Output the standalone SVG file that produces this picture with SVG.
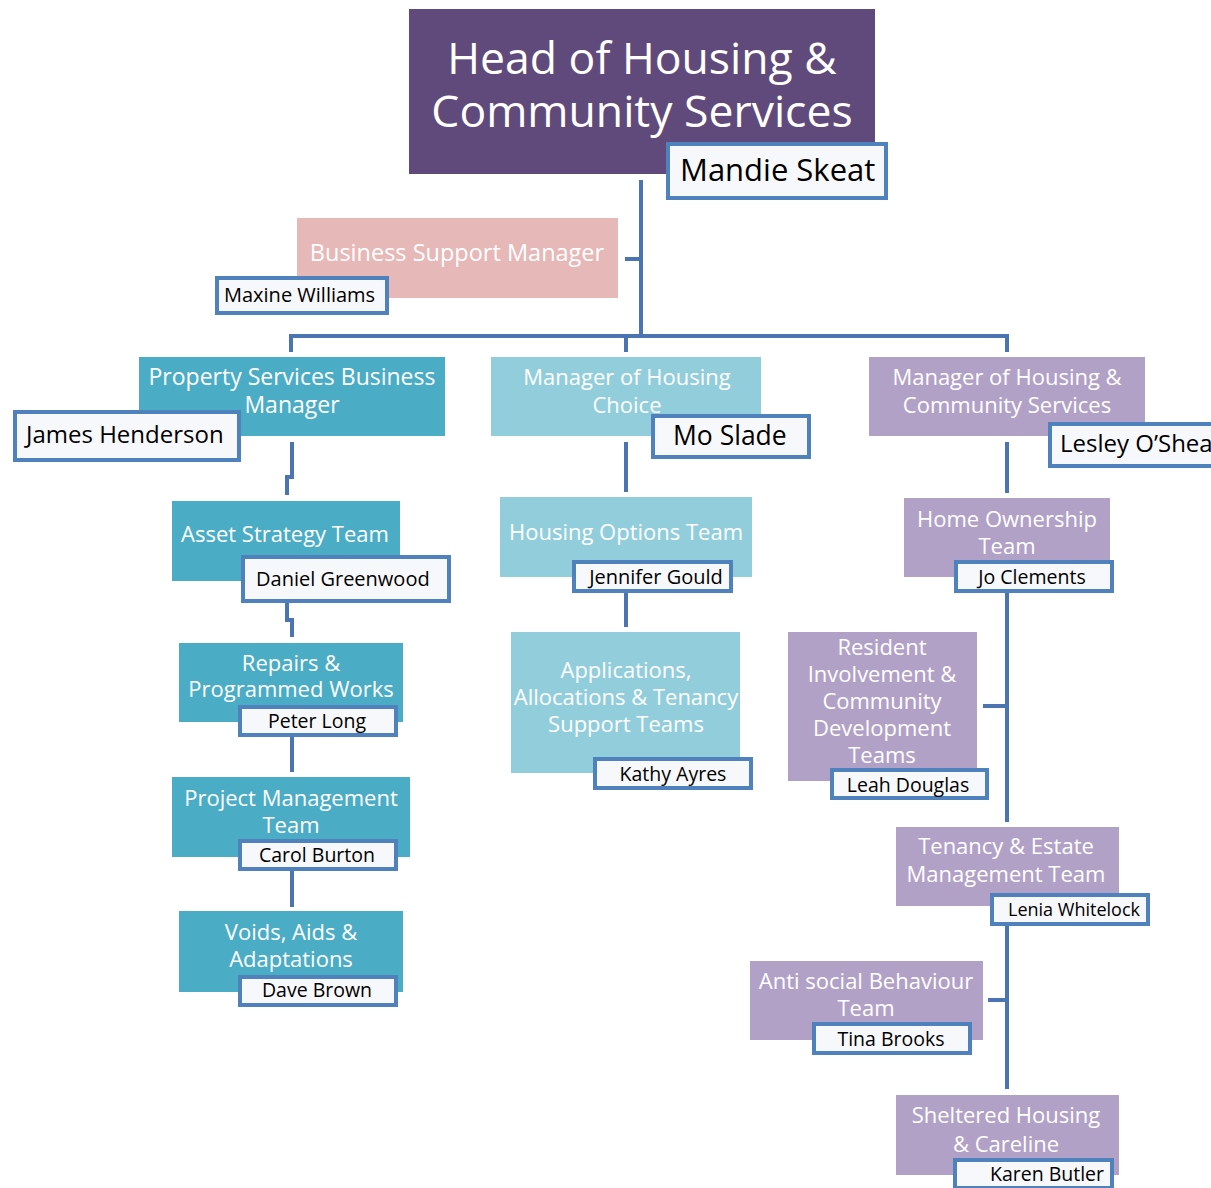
<svg xmlns="http://www.w3.org/2000/svg" width="1211" height="1188" viewBox="0 0 1211 1188">
<style>
.t{font-family:"Open Sans","Liberation Sans",sans-serif;fill:#fff;text-anchor:middle}
.n{font-family:"Open Sans","Liberation Sans",sans-serif;fill:#000}
.nc{font-family:"Open Sans","Liberation Sans",sans-serif;fill:#000;text-anchor:middle}
.lb{fill:#f7f8fb;stroke:#4f81bd;stroke-width:4}
.teal{fill:#4bacc6}
.lblue{fill:#92cddc}
.lav{fill:#b2a1c7}
.c{fill:none;stroke:#4a74b2;stroke-width:4}
</style>
<rect width="1211" height="1188" fill="#fff"/>
<g id="connectors">
<path class="c" d="M641 180V336"/>
<path class="c" d="M625 259H641"/>
<path class="c" d="M291 352V336H1007V352M626 336V352"/>
<path class="c" d="M292 442V477H287V495"/>
<path class="c" d="M287 602V620H292V637"/>
<path class="c" d="M292 737V772"/>
<path class="c" d="M292 871V907"/>
<path class="c" d="M626 442V492"/>
<path class="c" d="M626 591V627"/>
<path class="c" d="M1007 442V493"/>
<path class="c" d="M1007 591V822M983 706H1007"/>
<path class="c" d="M1007 924V1089M988 1000H1007"/>
</g>
<g id="head">
<rect x="409" y="9" width="466" height="165" fill="#604a7b"/>
<text class="t" x="642" y="74" font-size="44.5">Head of Housing &amp;</text>
<text class="t" x="642" y="127" font-size="44.5">Community Services</text>
<rect class="lb" x="668" y="144" width="218" height="54"/>
<text class="n" x="680" y="181" font-size="31">Mandie Skeat</text>
</g>
<g id="business-support">
<rect x="297" y="218" width="321" height="80" fill="#e6b8b7"/>
<text class="t" x="457" y="261" font-size="23.5">Business Support Manager</text>
<rect class="lb" x="217" y="278" width="170" height="35"/>
<text class="n" x="224" y="302" font-size="20">Maxine Williams</text>
</g>
<g id="property-services">
<rect class="teal" x="139" y="357" width="306" height="79"/>
<text class="t" x="292" y="385" font-size="23">Property Services Business</text>
<text class="t" x="292" y="413" font-size="23">Manager</text>
<rect class="lb" x="15" y="412" width="224" height="48"/>
<text class="n" x="26" y="443" font-size="24">James Henderson</text>
</g>
<g id="housing-choice">
<rect class="lblue" x="491" y="357" width="270" height="79"/>
<text class="t" x="627" y="385" font-size="22">Manager of Housing</text>
<text class="t" x="627" y="413" font-size="22">Choice</text>
<rect class="lb" x="653" y="416" width="156" height="41"/>
<text class="n" x="673" y="445" font-size="26.5">Mo Slade</text>
</g>
<g id="housing-community">
<rect class="lav" x="869" y="357" width="276" height="79"/>
<text class="t" x="1007" y="385" font-size="22">Manager of Housing &amp;</text>
<text class="t" x="1007" y="413" font-size="22">Community Services</text>
<rect class="lb" x="1050" y="424" width="170" height="42"/>
<text class="n" x="1060" y="452" font-size="24">Lesley O’Shea</text>
</g>
<g id="asset-strategy">
<rect class="teal" x="172" y="501" width="228" height="80"/>
<text class="t" x="285" y="542" font-size="22">Asset Strategy Team</text>
<rect class="lb" x="243" y="557" width="206" height="44"/>
<text class="n" x="256" y="586" font-size="20">Daniel Greenwood</text>
</g>
<g id="repairs">
<rect class="teal" x="179" y="643" width="224" height="79"/>
<text class="t" x="291" y="671" font-size="22">Repairs &amp;</text>
<text class="t" x="291" y="697" font-size="22">Programmed Works</text>
<rect class="lb" x="240" y="707" width="156" height="28"/>
<text class="nc" x="317" y="728" font-size="19.5">Peter Long</text>
</g>
<g id="project-management">
<rect class="teal" x="172" y="777" width="238" height="80"/>
<text class="t" x="291" y="806" font-size="22">Project Management</text>
<text class="t" x="291" y="833" font-size="22">Team</text>
<rect class="lb" x="240" y="841" width="156" height="28"/>
<text class="nc" x="317" y="862" font-size="19.5">Carol Burton</text>
</g>
<g id="voids">
<rect class="teal" x="179" y="911" width="224" height="81"/>
<text class="t" x="291" y="940" font-size="22">Voids, Aids &amp;</text>
<text class="t" x="291" y="967" font-size="22">Adaptations</text>
<rect class="lb" x="240" y="977" width="156" height="28"/>
<text class="nc" x="317" y="997" font-size="19.5">Dave Brown</text>
</g>
<g id="housing-options">
<rect class="lblue" x="500" y="497" width="252" height="80"/>
<text class="t" x="626" y="540" font-size="22">Housing Options Team</text>
<rect class="lb" x="574" y="562" width="157" height="29"/>
<text class="nc" x="656" y="584" font-size="20">Jennifer Gould</text>
</g>
<g id="applications">
<rect class="lblue" x="511" y="632" width="229" height="141"/>
<text class="t" x="626" y="678" font-size="22">Applications,</text>
<text class="t" x="626" y="705" font-size="22">Allocations &amp; Tenancy</text>
<text class="t" x="626" y="732" font-size="22">Support Teams</text>
<rect class="lb" x="595" y="759" width="156" height="29"/>
<text class="nc" x="673" y="781" font-size="19.5">Kathy Ayres</text>
</g>
<g id="home-ownership">
<rect class="lav" x="904" y="498" width="206" height="79"/>
<text class="t" x="1007" y="527" font-size="22">Home Ownership</text>
<text class="t" x="1007" y="554" font-size="22">Team</text>
<rect class="lb" x="956" y="562" width="156" height="29"/>
<text class="nc" x="1032" y="584" font-size="19.5">Jo Clements</text>
</g>
<g id="resident-involvement">
<rect class="lav" x="788" y="632" width="189" height="149"/>
<text class="t" x="882" y="655" font-size="22">Resident</text>
<text class="t" x="882" y="682" font-size="22">Involvement &amp;</text>
<text class="t" x="882" y="709" font-size="22">Community</text>
<text class="t" x="882" y="736" font-size="22">Development</text>
<text class="t" x="882" y="763" font-size="22">Teams</text>
<rect class="lb" x="832" y="770" width="155" height="28"/>
<text class="nc" x="908" y="792" font-size="19.5">Leah Douglas</text>
</g>
<g id="tenancy-estate">
<rect class="lav" x="896" y="827" width="223" height="79"/>
<text class="t" x="1006" y="854" font-size="22">Tenancy &amp; Estate</text>
<text class="t" x="1006" y="882" font-size="22">Management Team</text>
<rect class="lb" x="992" y="895" width="156" height="29"/>
<text class="nc" x="1074" y="916" font-size="18">Lenia Whitelock</text>
</g>
<g id="anti-social">
<rect class="lav" x="750" y="961" width="233" height="79"/>
<text class="t" x="866" y="989" font-size="22">Anti social Behaviour</text>
<text class="t" x="866" y="1016" font-size="22">Team</text>
<rect class="lb" x="814" y="1024" width="156" height="29"/>
<text class="nc" x="891" y="1046" font-size="19.5">Tina Brooks</text>
</g>
<g id="sheltered-housing">
<rect class="lav" x="896" y="1095" width="223" height="80"/>
<text class="t" x="1006" y="1123" font-size="22">Sheltered Housing</text>
<text class="t" x="1006" y="1152" font-size="22">&amp; Careline</text>
<rect class="lb" x="955" y="1160" width="157" height="28"/>
<text class="nc" x="1047" y="1181" font-size="19.5">Karen Butler</text>
</g>
</svg>
